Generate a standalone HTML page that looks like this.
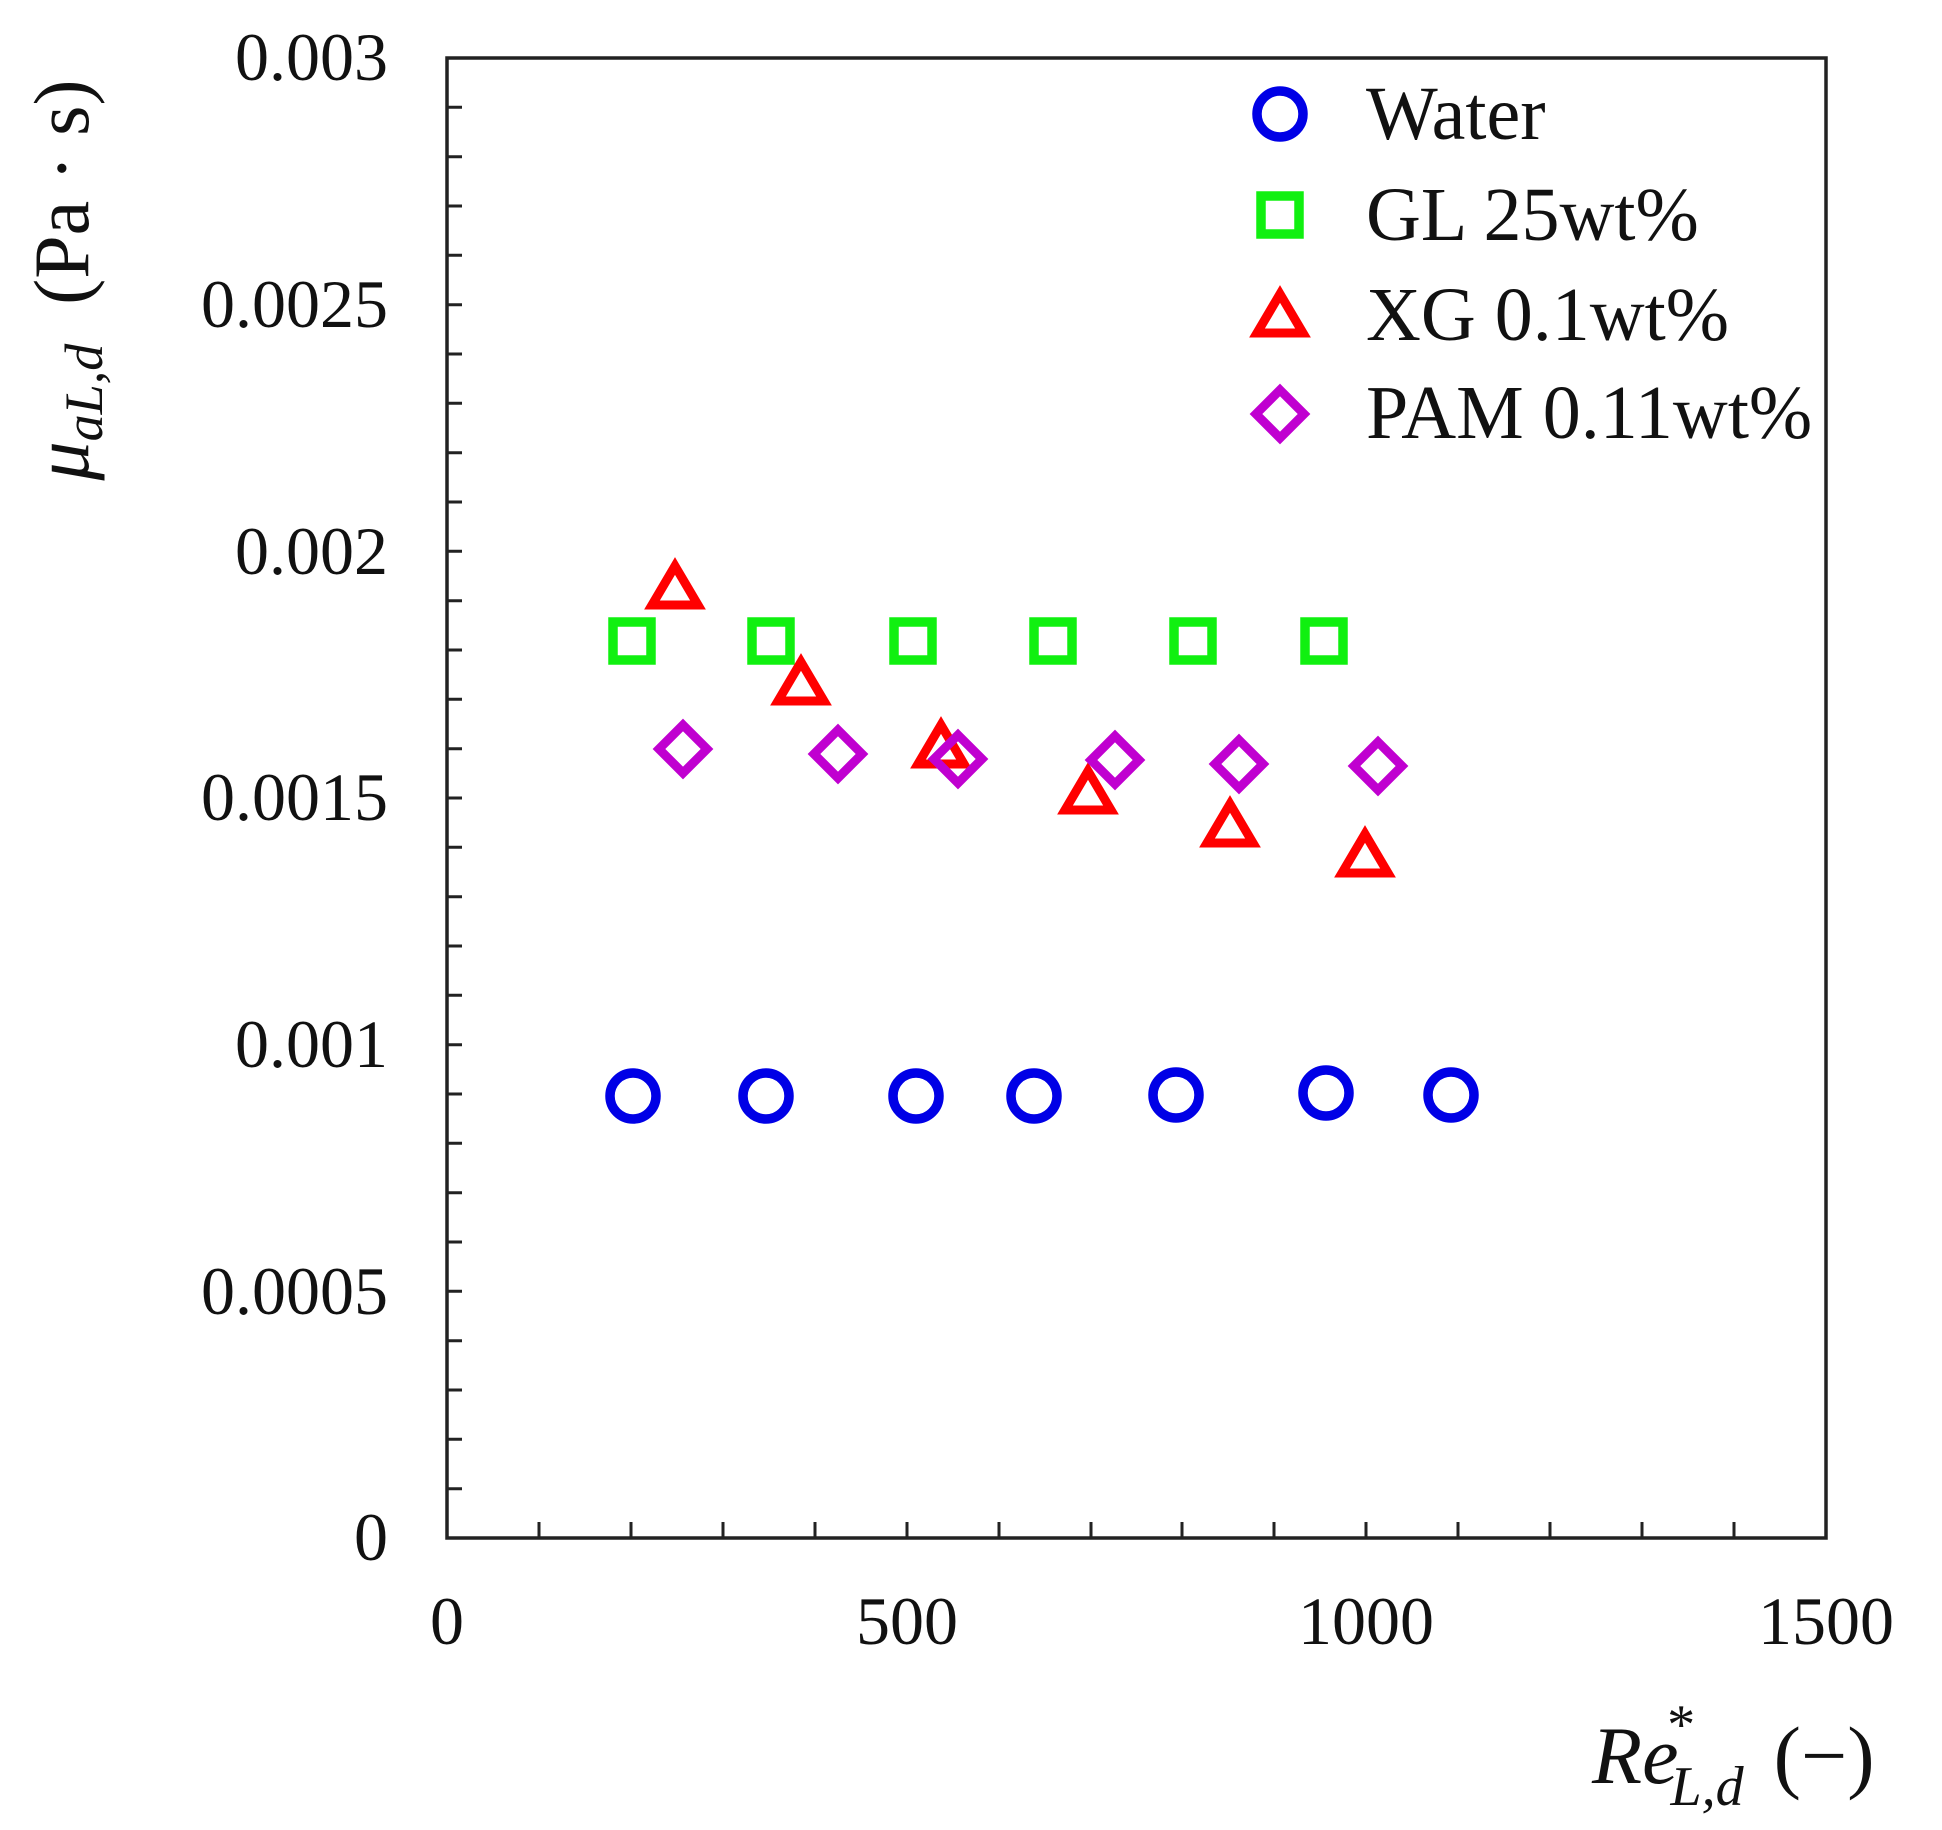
<!DOCTYPE html>
<html><head><meta charset="utf-8"><style>
html,body{margin:0;padding:0;background:#fff;}
svg{display:block;}
text{font-family:"Liberation Serif","DejaVu Serif",serif;fill:#111;}
</style></head><body>
<svg width="1942" height="1830" viewBox="0 0 1942 1830" xmlns="http://www.w3.org/2000/svg">
<defs>
<g id="c"><circle r="23" fill="none" stroke="#0000e6" stroke-width="9.5"/></g>
<g id="s"><rect x="-19" y="-19" width="38" height="38" fill="none" stroke="#10f010" stroke-width="9.5"/></g>
<g id="t"><polygon points="0,-22 23,17 -23,17" fill="none" stroke="#ff0000" stroke-width="9" stroke-linejoin="miter"/></g>
<g id="d"><polygon points="0,-24 24,0 0,24 -24,0" fill="none" stroke="#c000d0" stroke-width="9"/></g>
</defs>
<rect x="447" y="58" width="1379" height="1480" fill="none" stroke="#222" stroke-width="3.5"/>
<g stroke="#222" stroke-width="3">
<path d="M539 1538v-16M631 1538v-16M723 1538v-16M815 1538v-16M907 1538v-16M999 1538v-16M1091 1538v-16M1182 1538v-16M1274 1538v-16M1366 1538v-16M1458 1538v-16M1550 1538v-16M1642 1538v-16M1734 1538v-16"/>
<path d="M447 107.3h15M447 156.7h15M447 206h15M447 255.3h15M447 304.7h15M447 354h15M447 403.3h15M447 452.7h15M447 502h15M447 551.3h15M447 600.7h15M447 650h15M447 699.3h15M447 748.7h15M447 798h15M447 847.3h15M447 896.7h15M447 946h15M447 995.3h15M447 1044.7h15M447 1094h15M447 1143.3h15M447 1192.7h15M447 1242h15M447 1291.3h15M447 1340.7h15M447 1390h15M447 1439.3h15M447 1488.7h15"/>
</g>
<g font-size="68" text-anchor="end">
<text x="388" y="80">0.003</text>
<text x="388" y="327">0.0025</text>
<text x="388" y="574">0.002</text>
<text x="388" y="820">0.0015</text>
<text x="388" y="1067">0.001</text>
<text x="388" y="1314">0.0005</text>
<text x="388" y="1560">0</text>
</g>
<g font-size="68" text-anchor="middle">
<text x="447" y="1644">0</text>
<text x="907" y="1644">500</text>
<text x="1366" y="1644">1000</text>
<text x="1826" y="1644">1500</text>
</g>
<text transform="translate(88,280) rotate(-90)" font-size="78" text-anchor="middle"><tspan font-style="italic">μ</tspan><tspan font-style="italic" font-size="54" dy="14">aL,d</tspan><tspan dy="-14" xml:space="preserve">  (Pa · s)</tspan></text>
<text x="1592" y="1783" font-size="82" xml:space="preserve"><tspan font-style="italic">Re</tspan><tspan font-style="italic" font-size="56" dx="-14" dy="-40">*</tspan><tspan font-style="italic" font-size="56" dx="-22" dy="62">L,d</tspan><tspan dy="-22" dx="30">(−)</tspan></text>
<use href="#c" x="1280" y="114"/>
<use href="#s" x="1280" y="215"/>
<use href="#t" x="1280" y="316"/>
<use href="#d" x="1280" y="414"/>
<g font-size="76">
<text x="1366" y="139">Water</text>
<text x="1366" y="240">GL 25wt%</text>
<text x="1366" y="340">XG 0.1wt%</text>
<text x="1366" y="438">PAM 0.11wt%</text>
</g>
<use href="#c" x="633" y="1096"/><use href="#c" x="766" y="1096"/><use href="#c" x="916" y="1096"/>
<use href="#c" x="1034" y="1096"/><use href="#c" x="1176" y="1095"/><use href="#c" x="1326" y="1093"/>
<use href="#c" x="1451" y="1095"/>
<use href="#s" x="632" y="641"/><use href="#s" x="771" y="641"/><use href="#s" x="913" y="641"/>
<use href="#s" x="1053" y="641"/><use href="#s" x="1193" y="641"/><use href="#s" x="1324" y="641"/>
<use href="#t" x="675" y="588"/><use href="#t" x="801" y="684"/><use href="#t" x="941" y="747"/>
<use href="#t" x="1088" y="793"/><use href="#t" x="1230" y="826"/><use href="#t" x="1365" y="856"/>
<use href="#d" x="683" y="749"/><use href="#d" x="838" y="754"/><use href="#d" x="958" y="759"/>
<use href="#d" x="1115" y="760"/><use href="#d" x="1239" y="764"/><use href="#d" x="1378" y="766"/>
</svg>
</body></html>
